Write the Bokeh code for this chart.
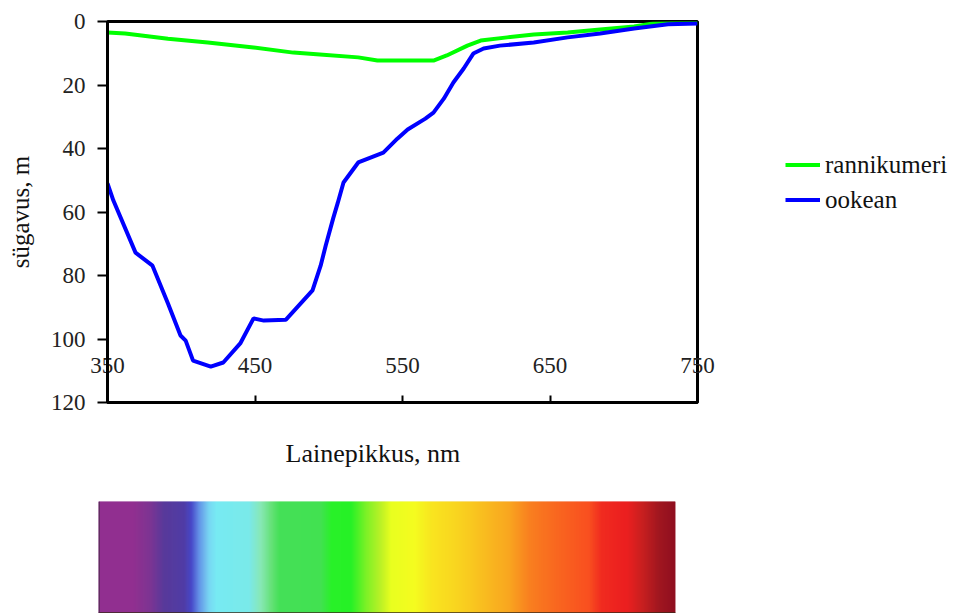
import numpy as np
from bokeh.plotting import figure
from bokeh.models import Range1d, FixedTicker, Legend, LegendItem, Title, ColumnDataSource
from bokeh.layouts import column, row
from bokeh.embed import file_html
from bokeh.resources import INLINE

# --- data ---
coast_wl = [350, 362, 391, 418, 449, 476, 494, 520, 533, 571, 580, 594, 603, 621, 639, 662, 684, 707, 720, 750]
coast_depth = [3.5, 3.8, 5.4, 6.6, 8.2, 9.8, 10.4, 11.3, 12.3, 12.3, 10.7, 7.6, 6.0, 5.0, 4.1, 3.5, 2.5, 1.6, 0.6, 0.3]

ocean_wl = [350, 354, 369, 380.5, 391, 399.5, 403, 408, 420, 428.5, 440, 449, 456, 471, 489, 494.5,
            498, 503, 506, 510, 520, 527, 537, 546.5, 553.5, 565.5, 571, 578, 584.5, 591.5, 598,
            605, 616, 639, 662, 684, 707, 730, 750]
ocean_depth = [51.0, 56.4, 72.8, 76.9, 88.8, 98.9, 100.5, 106.8, 108.7, 107.4, 101.4, 93.5, 94.2, 93.9, 84.7, 76.9,
               70.5, 62.0, 57.3, 50.7, 44.4, 43.1, 41.3, 36.9, 34.0, 30.6, 28.7, 24.3, 19.2, 14.8, 10.1,
               8.5, 7.6, 6.6, 5.0, 3.8, 2.2, 0.9, 0.6]

series_names = ["rannikumeri", "ookean"]
x_ticks = [350, 450, 550, 650, 750]
y_ticks = [0, 20, 40, 60, 80, 100, 120]
x_title = "Lainepikkus, nm"
y_title = "sügavus, m"

# spectrum colour stops (fraction along bar, colour)
spec_pos = [0.0, 0.06, 0.09, 0.114, 0.149, 0.161, 0.175, 0.192, 0.206, 0.262, 0.282, 0.300, 0.314,
            0.386, 0.404, 0.438, 0.463, 0.490, 0.508, 0.548, 0.577, 0.626, 0.669, 0.712, 0.747,
            0.790, 0.851, 0.872, 0.917, 0.946, 0.972, 1.0]
spec_col = ["#8A2388", "#8A2388", "#75288C", "#4E2D94", "#4530A0", "#3C3CC4", "#5A8CE6", "#70D4F2",
            "#6EEAF2", "#72E8E8", "#80E6B0", "#5CE070", "#3ADE4E", "#36E046", "#1CF01C", "#18F018",
            "#70F018", "#B8F018", "#E8FF10", "#F4FC10", "#F8E410", "#F8D010", "#F8B810", "#F8A010",
            "#F87810", "#F86010", "#F84410", "#F01E10", "#EA1010", "#C01010", "#9A0810", "#880010"]

FONT = "Liberation Serif"

p = figure(frame_width=590, frame_height=381, output_backend="svg", toolbar_location=None,
           x_range=Range1d(350, 750), y_range=Range1d(120, 0),
           min_border_left=107, min_border_right=255, min_border_top=21, min_border_bottom=98,
           background_fill_color="white", border_fill_color="white")
p.grid.visible = False
p.outline_line_color = "black"
p.outline_line_width = 3

p.xaxis.ticker = FixedTicker(ticks=x_ticks)
p.yaxis.ticker = FixedTicker(ticks=y_ticks)
for ax in (p.xaxis[0], p.yaxis[0]):
    ax.axis_line_width = 3
    ax.axis_line_color = "black"
    ax.major_tick_line_width = 2
    ax.major_tick_line_color = "black"
    ax.minor_tick_line_color = None
    ax.major_label_text_font = FONT
    ax.major_label_text_font_size = "23px"
    ax.major_label_text_color = "#222222"
p.xaxis.major_tick_in = 7
p.xaxis.major_tick_out = 0
p.xaxis.major_label_standoff = -45
p.yaxis.major_tick_in = 0
p.yaxis.major_tick_out = 10
p.yaxis.major_label_standoff = 12
p.yaxis.axis_label = y_title
p.yaxis.axis_label_text_font = FONT
p.yaxis.axis_label_text_font_size = "25px"
p.yaxis.axis_label_text_font_style = "normal"
p.yaxis.axis_label_text_color = "#111111"
p.yaxis.axis_label_standoff = 14

g = p.line(coast_wl, coast_depth, line_color="#00FF00", line_width=4)
b = p.line(ocean_wl, ocean_depth, line_color="#0000FF", line_width=4)

legend = Legend(items=[LegendItem(label=series_names[0], renderers=[g]),
                       LegendItem(label=series_names[1], renderers=[b])],
                location=(88, 185), glyph_width=35, glyph_height=35, label_height=35,
                spacing=0, padding=0, margin=0, label_standoff=5,
                border_line_color=None, background_fill_alpha=0,
                label_text_font=FONT, label_text_font_size="25px", label_text_color="#111111")
p.add_layout(legend, "right")

p.add_layout(Title(text=x_title, align="left", offset=178, standoff=68,
                   text_font=FONT, text_font_size="26px", text_font_style="normal",
                   text_color="#111111"), "below")

# spectrum bar
N = 577
edges = np.linspace(0, 1, N + 1)
mids = (edges[:-1] + edges[1:]) / 2
def hex2rgb(h):
    return [int(h[i:i + 2], 16) for i in (1, 3, 5)]
rgb = np.array([hex2rgb(c) for c in spec_col], dtype=float)
cols = []
for m in mids:
    r = np.interp(m, spec_pos, rgb[:, 0])
    gg = np.interp(m, spec_pos, rgb[:, 1])
    bb = np.interp(m, spec_pos, rgb[:, 2])
    cols.append("#%02x%02x%02x" % (int(r), int(gg), int(bb)))

q = figure(frame_width=577, frame_height=112, output_backend="svg", toolbar_location=None,
           x_range=Range1d(0, 1), y_range=Range1d(0, 1),
           x_axis_location=None, y_axis_location=None,
           min_border_left=98, min_border_right=268, min_border_top=0, min_border_bottom=0,
           background_fill_color="white", border_fill_color="white")
q.grid.visible = False
q.outline_line_color = None
src = ColumnDataSource(dict(left=edges[:-1], right=edges[1:], color=cols))
q.quad(left="left", right="right", bottom=0, top=1, fill_color="color", line_color="color",
       line_width=0.5, source=src)
q.segment(x0=[0], y0=[0.005], x1=[1], y1=[0.005], line_color="#3a2a1a", line_width=1.5)
q.segment(x0=[0.001], y0=[0], x1=[0.001], y1=[1], line_color="#4a2a4a", line_width=1.2)

layout = column(row(p), row(q), spacing=0)
open("out.html", "w").write(file_html(layout, INLINE))
